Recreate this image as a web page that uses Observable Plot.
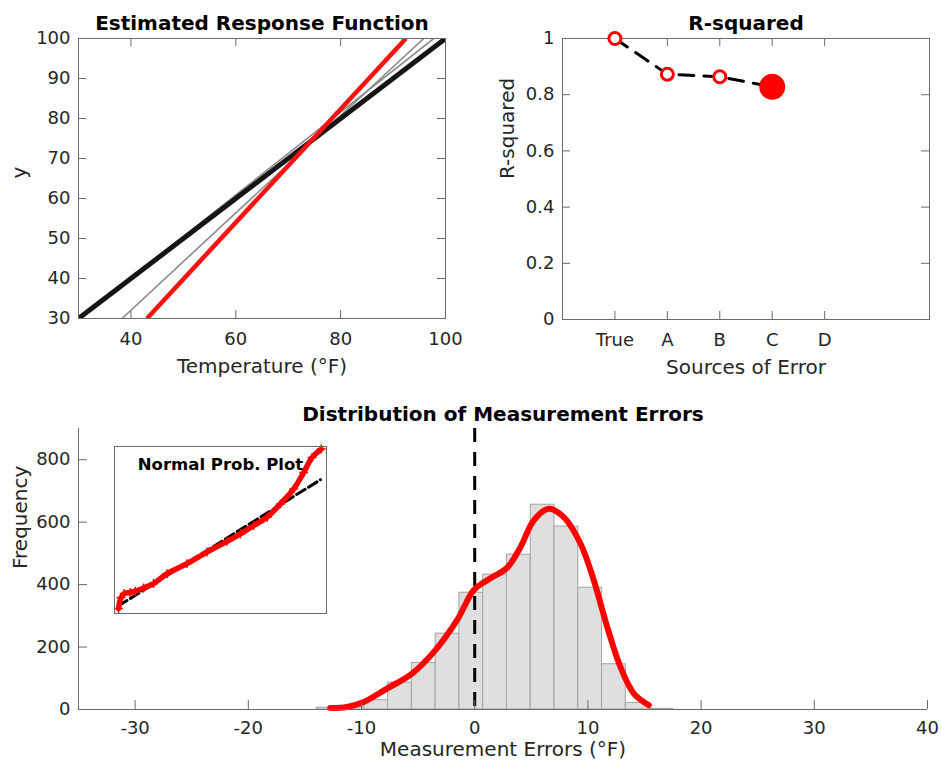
<!DOCTYPE html>
<html>
<head>
<meta charset="utf-8">
<script src="https://cdn.jsdelivr.net/npm/d3@7"></script>
<script src="https://cdn.jsdelivr.net/npm/@observablehq/plot@0.6"></script>
<style>
  body { margin: 0; background: #fff; }
  #wrap { position: relative; width: 941px; height: 767px; background: #fff; overflow: hidden; }
  #wrap svg { position: absolute; }
</style>
</head>
<body>
<div id="wrap"></div>
<script>
// ---------------- DATA ----------------
// Panel 1: estimated response functions (end points of each fitted line)
const responseModels = ["True", "A", "B", "C"];
const responseX1 = [30, 38.3, 30, 43.06];
const responseY1 = [30, 30, 29.8, 30];
const responseX2 = [100, 95.85, 97.76, 92.45];
const responseY2 = [100, 100, 100, 100];
const tempTicks = [40, 60, 80, 100];
const respYTicks = [30, 40, 50, 60, 70, 80, 90, 100];

// Panel 2: R-squared by source of error
const sourceLabels = ["True", "A", "B", "C", "D"];
const rsqSources = ["True", "A", "B", "C"];
const rsqValues = [1.0, 0.873, 0.864, 0.828];
const rsqTicks = [0, 0.2, 0.4, 0.6, 0.8, 1];
const highlightedSource = "C";

// Panel 3: histogram of measurement errors
const histEdges = [-13.95, -11.85, -9.75, -7.65, -5.55, -3.45, -1.35, 0.75, 2.85, 4.95, 7.05, 9.15, 11.25, 13.35, 15.45, 17.55];
const histCounts = [6, 7, 30, 86, 149, 243, 374, 432, 496, 656, 586, 390, 145, 21, 2];
const kdeX = [-12.76, -11.28, -9.81, -7.75, -5.53, -3.47, -1.56, -0.09, 1.10, 2.86, 4.04, 5.22, 6.54, 7.87, 9.35, 10.52, 11.71, 12.88, 14.06, 15.38];
const kdeY = [5, 8, 24, 67, 115, 190, 286, 382, 414, 454, 520, 606, 643, 616, 531, 414, 264, 136, 51, 14];
const errTicks = [-30, -20, -10, 0, 10, 20, 30, 40];
const freqTicks = [0, 200, 400, 600, 800];

// Inset: normal probability plot (error value vs. normal quantile)
const probX = [-13.43, -13.09, -12.63, -11.78, -11.07, -9.89, -8.47, -6.57, -3.74, -0.91, 1.93, 3.81, 5.70, 7.60, 9.48, 11.36, 12.78, 13.97, 15.25];
const probZ = [-3.67, -3.17, -2.97, -2.92, -2.86, -2.71, -2.50, -2.04, -1.57, -1.03, -0.53, -0.18, 0.21, 0.60, 1.22, 1.92, 2.69, 3.39, 3.78];
const refLineX = [-13.43, 15.15];
const refLineZ = [-3.54, 2.35];

// ---------------- STYLE ----------------
const axisGray = "#6a6a6a";
const textGray = "#262626";
const baseStyle = {fontFamily: "DejaVu Sans, sans-serif", fontSize: "18px", color: textGray, background: "transparent", overflow: "visible"};
const wrap = document.getElementById("wrap");

function place(svg, left, top) {
  svg.style.left = left + "px";
  svg.style.top = top + "px";
  wrap.appendChild(svg);
}

function boxTicks(xt, yt, fw, fh, len, allSides) {
  const m = [
    Plot.ruleX(xt, {insetTop: fh - len, stroke: axisGray}),
    Plot.ruleY(yt, {insetRight: fw - len, stroke: axisGray})
  ];
  if (allSides) {
    m.push(Plot.ruleX(xt, {insetBottom: fh - len, stroke: axisGray}));
    m.push(Plot.ruleY(yt, {insetLeft: fw - len, stroke: axisGray}));
  }
  return m;
}

// ---------------- PANEL 1 ----------------
{
  const w = 470, h = 390, ml = 78, mr = 25, mt = 38, mb = 72;
  const fw = w - ml - mr, fh = h - mt - mb;
  const link = (idx, opts) => Plot.link(idx, {
    x1: i => responseX1[i], y1: i => responseY1[i],
    x2: i => responseX2[i], y2: i => responseY2[i], clip: true, ...opts
  });
  const svg = Plot.plot({
    width: w, height: h, marginLeft: ml, marginRight: mr, marginTop: mt, marginBottom: mb,
    style: baseStyle,
    x: {domain: [30, 100], axis: null},
    y: {domain: [30, 100], axis: null},
    marks: [
      link([1, 2], {stroke: "#8a8a8a", strokeWidth: 1.6}),
      link([0], {stroke: "#151515", strokeWidth: 5}),
      link([3], {stroke: "#ff1010", strokeWidth: 4.5}),
      Plot.frame({stroke: axisGray}),
      ...boxTicks(tempTicks, respYTicks, fw, fh, 8, true),
      Plot.axisX(tempTicks, {tickSize: 0, tickPadding: 14, fontSize: 18, label: null, fill: textGray}),
      Plot.axisY(respYTicks, {tickSize: 0, tickPadding: 8, fontSize: 18, label: null, fill: textGray}),
      Plot.text(["Estimated Response Function"], {text: d => d, frameAnchor: "top", lineAnchor: "bottom", dy: -8.5, fontSize: 20, fontWeight: "bold", fill: "black"}),
      Plot.text(["Temperature (°F)"], {text: d => d, frameAnchor: "bottom", lineAnchor: "middle", dy: 48, fontSize: 20, fill: textGray}),
      Plot.text(["y"], {text: d => d, frameAnchor: "left", rotate: -90, dx: -59, fontSize: 20, fill: textGray})
    ]
  });
  place(svg, 0, 0);
}

// ---------------- PANEL 2 ----------------
{
  const w = 471, h = 390, ml = 92, mr = 12, mt = 38, mb = 71;
  const fw = w - ml - mr, fh = h - mt - mb;
  const pos = s => sourceLabels.indexOf(s) + 1;
  const xt = sourceLabels.map(pos);
  const svg = Plot.plot({
    width: w, height: h, marginLeft: ml, marginRight: mr, marginTop: mt, marginBottom: mb,
    style: baseStyle,
    x: {domain: [0, 7], axis: null},
    y: {domain: [0, 1], axis: null},
    marks: [
      Plot.frame({stroke: axisGray}),
      ...boxTicks(xt, rsqTicks, fw, fh, 8, true),
      Plot.line(rsqSources, {x: pos, y: (s, i) => rsqValues[i], stroke: "black", strokeWidth: 3, strokeDasharray: "15,10"}),
      Plot.dot(rsqSources.filter(s => s !== highlightedSource), {x: pos, y: s => rsqValues[rsqSources.indexOf(s)], r: 6, fill: "white", stroke: "#ff0000", strokeWidth: 3}),
      Plot.dot([highlightedSource], {x: pos, y: s => rsqValues[rsqSources.indexOf(s)], r: 13, fill: "#ff0000"}),
      Plot.axisX(xt, {tickSize: 0, tickPadding: 14, fontSize: 18, label: null, fill: textGray, tickFormat: d => sourceLabels[d - 1]}),
      Plot.axisY(rsqTicks, {tickSize: 0, tickPadding: 8, fontSize: 18, label: null, fill: textGray, tickFormat: d => String(d)}),
      Plot.text(["R-squared"], {text: d => d, frameAnchor: "top", lineAnchor: "bottom", dy: -8.5, fontSize: 20, fontWeight: "bold", fill: "black"}),
      Plot.text(["Sources of Error"], {text: d => d, frameAnchor: "bottom", lineAnchor: "middle", dy: 48, fontSize: 20, fill: textGray}),
      Plot.text(["R-squared"], {text: d => d, frameAnchor: "left", rotate: -90, dx: -55, fontSize: 20, fill: textGray})
    ]
  });
  place(svg, 470, 0);
}

// ---------------- PANEL 3 ----------------
{
  const w = 941, h = 377, ml = 78, mr = 14, mt = 38, mb = 58;
  const fw = w - ml - mr, fh = h - mt - mb;
  const bins = histCounts.map((c, i) => i);
  const svg = Plot.plot({
    width: w, height: h, marginLeft: ml, marginRight: mr, marginTop: mt, marginBottom: mb,
    style: baseStyle,
    x: {domain: [-35, 40], axis: null},
    y: {domain: [0, 900], axis: null},
    marks: [
      Plot.rectY(bins, {x1: i => histEdges[i], x2: i => histEdges[i + 1], y1: 0, y2: i => histCounts[i], fill: "#dfdfdf", stroke: "#a3a3a3", strokeWidth: 1}),
      Plot.ruleX([0], {stroke: "black", strokeWidth: 3, strokeDasharray: "14,10"}),
      Plot.line(kdeX, {x: d => d, y: (d, i) => kdeY[i], curve: "catmull-rom", stroke: "#ff0000", strokeWidth: 6}),
      Plot.ruleY([0], {stroke: axisGray}),
      Plot.ruleX([-35], {stroke: axisGray}),
      ...boxTicks(errTicks, freqTicks, fw, fh, 9, false),
      Plot.axisX(errTicks, {tickSize: 0, tickPadding: 12, fontSize: 18, label: null, fill: textGray, tickFormat: d => String(d)}),
      Plot.axisY(freqTicks, {tickSize: 0, tickPadding: 8, fontSize: 18, label: null, fill: textGray, tickFormat: d => String(d)}),
      Plot.text(["Distribution of Measurement Errors"], {text: d => d, frameAnchor: "top", lineAnchor: "bottom", dy: -8, fontSize: 20, fontWeight: "bold", fill: "black"}),
      Plot.text(["Measurement Errors (°F)"], {text: d => d, frameAnchor: "bottom", lineAnchor: "middle", dy: 40, fontSize: 20, fill: textGray}),
      Plot.text(["Frequency"], {text: d => d, frameAnchor: "left", rotate: -90, dx: -58, fontSize: 20, fill: textGray})
    ]
  });
  place(svg, 0, 390);
}

// ---------------- INSET ----------------
{
  const w = 212, h = 167;
  const svg = Plot.plot({
    width: w, height: h, margin: 0,
    style: {...baseStyle, background: "white"},
    x: {domain: [-14, 16], axis: null},
    y: {domain: [-3.9, 3.9], axis: null},
    marks: [
      Plot.line(refLineX, {x: d => d, y: (d, i) => refLineZ[i], stroke: "black", strokeWidth: 3, strokeDasharray: "10,4"}),
      Plot.line(probX, {x: d => d, y: (d, i) => probZ[i], stroke: "#ff0000", strokeWidth: 5.5, curve: "catmull-rom"}),
      Plot.dot(probX, {x: d => d, y: (d, i) => probZ[i], symbol: "plus", r: 3, stroke: "#ff0000", strokeWidth: 1.5}),
      Plot.frame({stroke: axisGray}),
      Plot.text(["Normal Prob. Plot"], {text: d => d, frameAnchor: "top", lineAnchor: "bottom", dy: 23, dx: 0, fontSize: 16.5, fontWeight: "bold", fill: "black"})
    ]
  });
  place(svg, 114, 446);
}
</script>
</body>
</html>
